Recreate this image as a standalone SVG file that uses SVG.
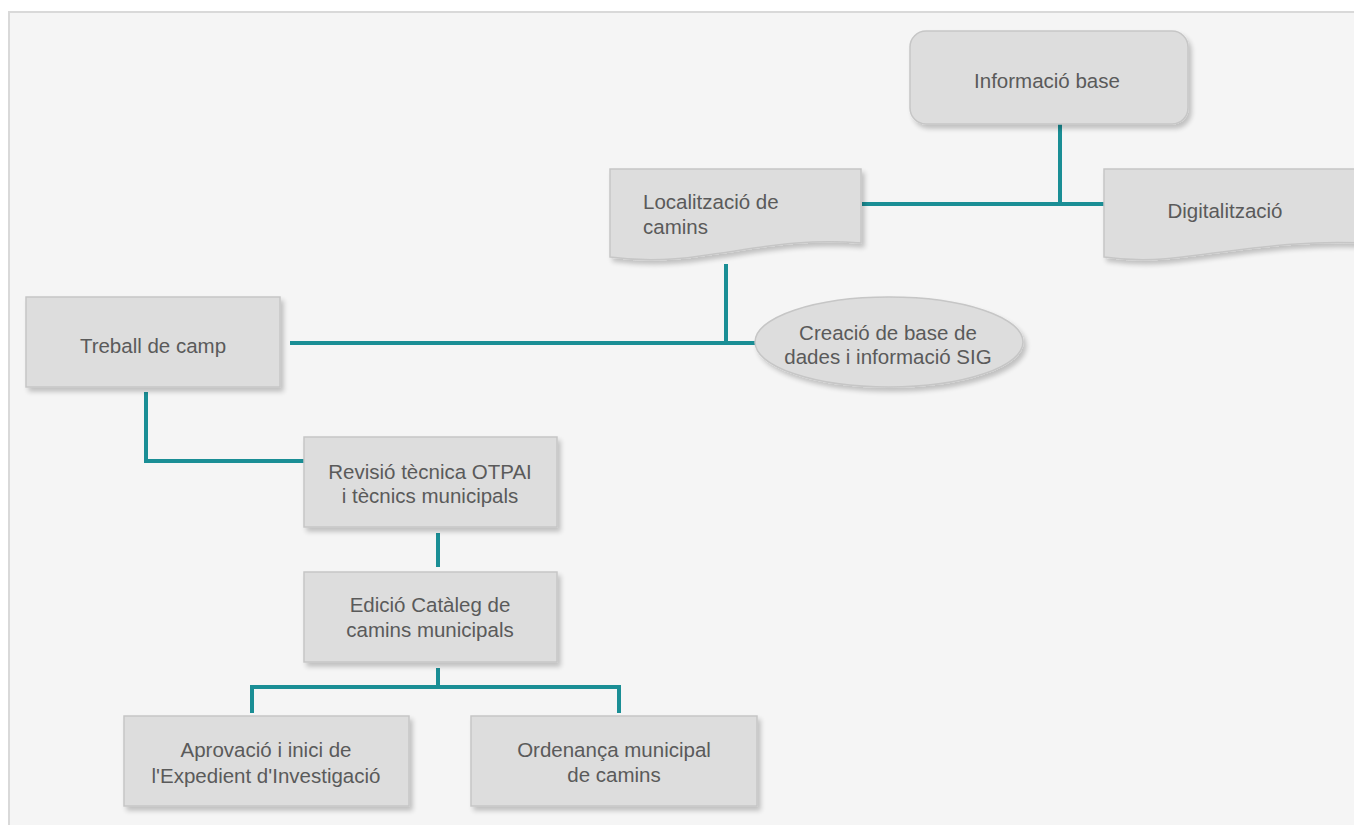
<svg xmlns="http://www.w3.org/2000/svg" width="1354" height="825" viewBox="0 0 1354 825">
  <defs>
    <filter id="sh" x="-10%" y="-10%" width="125%" height="135%">
      <feGaussianBlur in="SourceAlpha" stdDeviation="2.5"/>
      <feOffset dx="3" dy="4" result="b"/>
      <feComponentTransfer><feFuncA type="linear" slope="0.22"/></feComponentTransfer>
      <feMerge><feMergeNode/><feMergeNode in="SourceGraphic"/></feMerge>
    </filter>
  </defs>
  <style>
    .box { fill: #dddddd; stroke: #c6c6c6; stroke-width: 1.5; filter: url(#sh); }
    .t { font-family: "Liberation Sans", Arial, sans-serif; font-size: 20.5px; fill: #5a5a5a; text-anchor: middle; }
    .tl { text-anchor: start; }
    .c { stroke: #1a8e95; stroke-width: 4; fill: none; stroke-linecap: butt; }
  </style>
  <rect x="0" y="0" width="1354" height="825" fill="#ffffff"/>
  <rect x="9" y="12" width="1350" height="820" fill="#f5f5f5" stroke="#d9d9d9" stroke-width="2"/>

  <g id="connectors">
    <line class="c" x1="1060" y1="124" x2="1060" y2="206"/>
    <line class="c" x1="862" y1="204" x2="1105" y2="204"/>
    <line class="c" x1="726" y1="264" x2="726" y2="345"/>
    <line class="c" x1="290" y1="343" x2="756" y2="343"/>
    <polyline class="c" points="146,392 146,461 305,461"/>
    <line class="c" x1="438" y1="533" x2="438" y2="567"/>
    <line class="c" x1="438" y1="668" x2="438" y2="689"/>
    <polyline class="c" points="252,713 252,687 619,687 619,713"/>
  </g>

  <g id="informacio-base">
    <rect class="box" x="910" y="31" width="278" height="93" rx="16" ry="16"/>
    <text class="t" x="1047" y="88">Informació base</text>
  </g>

  <g id="digitalitzacio">
    <path class="box" d="M1104,169 H1362 V243 C1300,240 1250,249 1190,256 C1150,262 1125,260 1104,257 Z"/>
    <text class="t" x="1225" y="218">Digitalització</text>
  </g>

  <g id="localitzacio">
    <path class="box" d="M610,169 H861 V243 C800,238 760,248 700,256 C660,262 632,260 610,257 Z"/>
    <text class="t tl" x="643" y="209">Localització de</text>
    <text class="t tl" x="643" y="234">camins</text>
  </g>

  <g id="creacio-base-dades">
    <ellipse class="box" cx="889" cy="342" rx="134" ry="45"/>
    <text class="t" x="888" y="340">Creació de base de</text>
    <text class="t" x="888" y="364">dades i informació SIG</text>
  </g>

  <g id="treball-camp">
    <rect class="box" x="26" y="297" width="254" height="90"/>
    <text class="t" x="153" y="353">Treball de camp</text>
  </g>

  <g id="revisio-tecnica">
    <rect class="box" x="304" y="437" width="253" height="90"/>
    <text class="t" x="430" y="479">Revisió tècnica OTPAI</text>
    <text class="t" x="430" y="503">i tècnics municipals</text>
  </g>

  <g id="edicio-cataleg">
    <rect class="box" x="304" y="572" width="253" height="90"/>
    <text class="t" x="430" y="612">Edició Catàleg de</text>
    <text class="t" x="430" y="637">camins municipals</text>
  </g>

  <g id="aprovacio">
    <rect class="box" x="124" y="716" width="285" height="90"/>
    <text class="t" x="266" y="757">Aprovació i inici de</text>
    <text class="t" x="266" y="783">l'Expedient d'Investigació</text>
  </g>

  <g id="ordenanca">
    <rect class="box" x="471" y="716" width="286" height="90"/>
    <text class="t" x="614" y="757">Ordenança municipal</text>
    <text class="t" x="614" y="782">de camins</text>
  </g>
</svg>
